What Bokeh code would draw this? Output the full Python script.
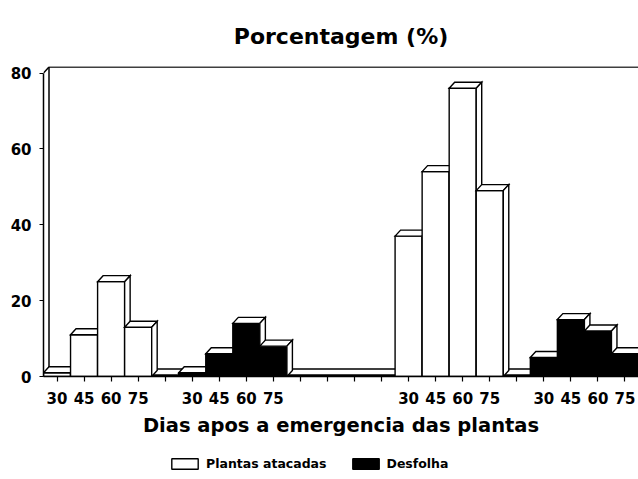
from bokeh.plotting import figure
from bokeh.layouts import column
from bokeh.models import Range1d, FixedTicker, ColumnDataSource, Legend, LegendItem
from bokeh.embed import file_html
from bokeh.resources import INLINE

# ---------------- data ----------------
days = ["30", "45", "60", "75"]
series_names = ["Plantas atacadas", "Desfolha"]
plantas_atacadas_a = [1, 11, 25, 13]
desfolha_a = [1, 6, 14, 8]
plantas_atacadas_b = [37, 54, 76, 49]
desfolha_b = [5, 15, 12, 6]
y_ticks = [0, 20, 40, 60, 80]

# layout of the x slots: (values, series index, empty slots before group)
groups = [
    (plantas_atacadas_a, 0, 0),
    (desfolha_a, 1, 1),
    (plantas_atacadas_b, 0, 4),
    (desfolha_b, 1, 1),
]

# ---------------- styles / layout ----------------
W, H, LEG_H = 638, 448, 31
ML, MR, MT, MB = 43, 0, 66, 72
FONT = "DejaVu Sans"
FILLS = ["white", "black"]
DEPTH_X, DEPTH_Y = 5.5, 6.0     # 3D depth in pixels
FLOOR = 0.4                      # floor slab thickness (data units)
Y_MAX = 80

# assign slots
slots = []
labels = {}
pos = 0
for vals, s, gap in groups:
    pos += gap
    for k, v in enumerate(vals):
        slots.append((pos, v, s))
        labels[pos] = days[k]
        pos += 1
n_slots = pos
for i in range(n_slots):
    labels.setdefault(i, "")

x0, x1 = -0.5, n_slots - 0.5
fw, fh = W - ML - MR, H - MT - MB
ppx = fw / (x1 - x0)
y_top = Y_MAX * fh / (fh - DEPTH_Y - 0.5)
ppy = fh / y_top
dxu, dyu = DEPTH_X / ppx, DEPTH_Y / ppy

p = figure(width=W, height=H, output_backend="svg", toolbar_location=None,
           x_range=Range1d(x0, x1), y_range=Range1d(0, y_top),
           min_border_left=ML, min_border_right=MR, min_border_top=MT,
           min_border_bottom=MB)
p.outline_line_color = None
p.xgrid.visible = False
p.ygrid.visible = False

p.title.text = "Porcentagem (%)"
p.title.align = "center"
p.title.text_font = FONT
p.title.text_font_size = "22px"
p.title.text_font_style = "bold"
p.title.text_color = "black"
p.title.standoff = 36

# back wall / frame lines
p.multi_line(
    xs=[[x0 + dxu, x0 + dxu], [x0, x0 + dxu, x1 + dxu + 1], [x0, x0 + dxu]],
    ys=[[dyu, Y_MAX + dyu], [Y_MAX, Y_MAX + dyu, Y_MAX + dyu], [0, dyu]],
    line_color="black", line_width=1.5)

# polygons in painter's order
xs, ys, fills = [], [], []
first_front = {}
# floor slab
xs.append([x0, x1 + 1, x1 + 1, x0]); ys.append([0, 0, FLOOR, FLOOR]); fills.append("white")
xs.append([x0, x0 + dxu, x1 + 1 + dxu, x1 + 1]); ys.append([FLOOR, FLOOR + dyu, FLOOR + dyu, FLOOR]); fills.append("white")
for i, v, s in slots:
    l, r = i - 0.5, i + 0.5
    first_front.setdefault(s, len(xs))
    xs.append([l, r, r, l]); ys.append([0, 0, v, v]); fills.append(FILLS[s])
    xs.append([l, l + dxu, r + dxu, r]); ys.append([v, v + dyu, v + dyu, v]); fills.append("white")
    xs.append([r, r + dxu, r + dxu, r]); ys.append([0, dyu, v + dyu, v]); fills.append("white")

src = ColumnDataSource(dict(xs=xs, ys=ys, fill=fills))
p.patches("xs", "ys", source=src, fill_color="fill", line_color="black",
          line_width=1.4, line_join="miter")

# axes
for ax in (p.xaxis, p.yaxis):
    ax.minor_tick_line_color = None
    ax.major_tick_in = 0
    ax.axis_line_width = 1.5
    ax.axis_line_color = "black"
    ax.major_tick_line_color = "black"
    ax.major_tick_line_width = 1.2
    ax.major_label_text_font = FONT
    ax.major_label_text_font_size = "15px"
    ax.major_label_text_font_style = "bold"
    ax.major_label_text_color = "black"

p.xaxis.ticker = FixedTicker(ticks=list(range(n_slots)))
p.xaxis.major_label_overrides = labels
p.xaxis.major_tick_out = 5
p.xaxis.major_label_standoff = 10
p.xaxis.axis_label = "Dias apos a emergencia das plantas"
p.xaxis.axis_label_text_font = FONT
p.xaxis.axis_label_text_font_size = "19.5px"
p.xaxis.axis_label_text_font_style = "bold"
p.xaxis.axis_label_text_color = "black"
p.xaxis.axis_label_standoff = 7

p.yaxis.ticker = FixedTicker(ticks=y_ticks)
p.yaxis.bounds = (0, Y_MAX)
p.yaxis.major_tick_out = 4
p.yaxis.major_label_standoff = 8

# legend strip (separate figure below the chart, same bar source)
pl = figure(width=W, height=LEG_H, output_backend="svg", toolbar_location=None,
            x_range=Range1d(0, 1), y_range=Range1d(-2, -1),
            x_axis_type=None, y_axis_type=None,
            min_border_left=0, min_border_right=0, min_border_top=0,
            min_border_bottom=0)
pl.outline_line_color = None
pl.xgrid.visible = False
pl.ygrid.visible = False
proxy = pl.patches("xs", "ys", source=src, fill_color="fill", line_color="black",
                   line_width=1.4)
legend = Legend(items=[LegendItem(label=series_names[0], renderers=[proxy], index=first_front[0]),
                       LegendItem(label=series_names[1], renderers=[proxy], index=first_front[1])],
                orientation="horizontal", location=(125, 8),
                glyph_width=33, glyph_height=13, label_standoff=5, spacing=22,
                padding=0, margin=0, border_line_color=None,
                background_fill_alpha=0,
                label_text_font=FONT, label_text_font_size="12.5px",
                label_text_font_style="bold", label_text_color="black")
pl.add_layout(legend)

layout = column(p, pl)
open("out.html", "w").write(file_html(layout, INLINE))
